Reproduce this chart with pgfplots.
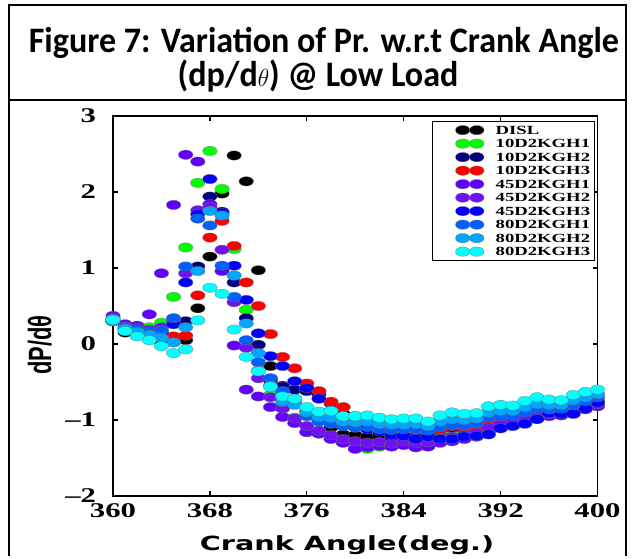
\documentclass[border=0pt]{standalone}
\usepackage{pgfplots}
\pgfplotsset{compat=1.18}
\usepackage{pgfplotstable}
\usepackage{fontspec}
\newfontfamily\carlito{Carlito}
\newfontfamily\dejavu{DejaVu Sans}
\newfontfamily\lserif{Liberation Serif}
\newfontfamily\lsans{Liberation Sans}

\definecolor{cK}{RGB}{0,0,0}
\definecolor{cG}{RGB}{0,255,0}
\definecolor{cN}{RGB}{0,0,128}
\definecolor{cR}{RGB}{255,0,0}
\definecolor{cP1}{RGB}{96,0,255}
\definecolor{cP2}{RGB}{112,18,240}
\definecolor{cB}{RGB}{0,0,255}
\definecolor{cL1}{RGB}{0,96,255}
\definecolor{cL2}{RGB}{0,166,255}
\definecolor{cC}{RGB}{0,255,255}

\newcommand\lgtxt[1]{\scalebox{1.5}[1]{#1}\hspace{6bp}}

% dP/dtheta at low load, one column per fuel
\pgfplotstableread{
deg   K      G      N      R      P1     P2     B      L1     L2     C
360   0.30   0.30   0.31   0.30   0.37   0.34   0.30   0.33   0.30   0.32
361   0.15   0.19   0.18   0.20   0.26   0.23   0.21   0.22   0.20   0.17
362   0.12   0.18   0.15   0.17   0.24   0.21   0.20   0.19   0.16   0.10
363   0.08   0.22   0.12   0.14   0.39   0.19   0.17   0.16   0.12   0.05
364   0.02   0.28   0.10   0.12   0.93   0.22   0.15   0.18   0.08  -0.03
365   0.06   0.62   0.06   0.10   1.83   0.31   0.26   0.34   0.02  -0.12
366   0.05   1.27   0.30   0.11   2.49   0.93   0.81   1.02   0.22  -0.07
367   0.47   2.12   1.02   0.64   2.40   1.76   1.71   1.65   0.96   0.31
368   1.15   2.54   1.94   1.40   1.84   1.80   2.17   1.56   1.75   0.74
369   1.98   2.04   1.74   1.62   0.96   1.24   1.72   1.03   1.69   0.66
370   2.48   1.25   0.81   1.29  -0.02   0.55   1.03   0.62   0.90   0.19
371   2.14   0.45   0.34   0.81  -0.60  -0.05   0.58   0.05   0.27  -0.17
372   0.97  -0.35  -0.01   0.50  -0.69  -0.45   0.14  -0.24  -0.12  -0.36
373  -0.29  -0.67  -0.48   0.13  -0.83  -0.70  -0.16  -0.45  -0.55  -0.56
374  -0.55  -0.80  -0.56  -0.17  -0.96  -0.85  -0.29  -0.62  -0.76  -0.69
375  -0.72  -0.97  -0.60  -0.32  -1.04  -0.98  -0.49  -0.78  -0.80  -0.72
376  -0.88  -1.16  -0.62  -0.52  -1.16  -1.08  -0.58  -0.95  -0.90  -0.83
377  -1.00  -1.15  -0.66  -0.62  -1.18  -1.14  -0.72  -1.02  -0.96  -0.89
378  -1.10  -1.22  -0.78  -0.76  -1.25  -1.20  -0.88  -1.05  -0.97  -0.88
379  -1.19  -1.26  -0.92  -0.83  -1.30  -1.25  -1.00  -1.08  -1.02  -0.95
380  -1.20  -1.32  -1.05  -0.95  -1.38  -1.28  -1.08  -1.10  -1.03  -0.95
381  -1.22  -1.38  -1.10  -1.05  -1.36  -1.30  -1.12  -1.09  -1.02  -0.94
382  -1.21  -1.35  -1.14  -1.10  -1.34  -1.29  -1.15  -1.12  -1.05  -0.97
383  -1.23  -1.33  -1.16  -1.14  -1.35  -1.31  -1.20  -1.13  -1.06  -0.99
384  -1.22  -1.30  -1.15  -1.16  -1.33  -1.28  -1.21  -1.12  -1.06  -0.98
385  -1.20  -1.29  -1.16  -1.13  -1.36  -1.30  -1.25  -1.12  -1.05  -0.98
386  -1.22  -1.26  -1.18  -1.15  -1.35  -1.29  -1.22  -1.14  -1.08  -1.02
387  -1.18  -1.24  -1.12  -1.12  -1.30  -1.25  -1.25  -1.09  -1.02  -0.94
388  -1.15  -1.20  -1.10  -1.08  -1.28  -1.22  -1.25  -1.06  -0.99  -0.90
389  -1.14  -1.18  -1.12  -1.10  -1.25  -1.20  -1.22  -1.07  -1.00  -0.92
390  -1.12  -1.15  -1.10  -1.08  -1.22  -1.17  -1.21  -1.04  -0.98  -0.91
391  -1.05  -1.08  -1.02  -1.00  -1.15  -1.10  -1.19  -0.97  -0.90  -0.82
392  -1.02  -1.04  -0.99  -0.97  -1.10  -1.05  -1.11  -0.95  -0.88  -0.80
393  -1.00  -1.02  -0.99  -0.98  -1.05  -0.98  -1.08  -0.94  -0.88  -0.81
394  -0.96  -0.98  -0.94  -0.93  -1.00  -0.96  -1.05  -0.90  -0.83  -0.75
395  -0.92  -0.93  -0.89  -0.90  -0.96  -0.92  -0.99  -0.85  -0.79  -0.70
396  -0.93  -0.94  -0.90  -0.92  -0.95  -0.92  -0.91  -0.86  -0.80  -0.73
397  -0.92  -0.92  -0.90  -0.91  -0.94  -0.90  -0.92  -0.85  -0.80  -0.74
398  -0.87  -0.86  -0.84  -0.86  -0.89  -0.86  -0.92  -0.80  -0.74  -0.67
399  -0.82  -0.84  -0.80  -0.84  -0.86  -0.83  -0.85  -0.75  -0.70  -0.63
400  -0.78  -0.80  -0.75  -0.81  -0.82  -0.79  -0.77  -0.70  -0.66  -0.60
}\dpdata

\pgfplotsset{
  dots/.style={only marks, mark=*, mark size=4.7bp,
    mark options={xscale=1.55, draw=black!55, line width=0.25bp, fill=#1},
    legend image code/.code={\path (-28bp,0bp) (30bp,0bp);
      \draw[##1] plot coordinates {(0bp,0bp) (14bp,0bp)};}},
}

\begin{document}
\begin{tikzpicture}[x=1bp,y=1bp]
\begin{axis}[
    scale only axis, width=484.5bp, height=380bp,
    xmin=360, xmax=400, ymin=-2, ymax=3,
    xtick={360,368,...,400},
    ytick={-2,-1,0,1,2,3},
    yticklabels={–2,–1,0,1,2,3},
    tick align=inside,
    major tick length=5bp,
    axis line style={line width=1.6bp},
    every tick/.style={black, line width=1.2bp},
    /pgf/number format/assume math mode=true,
    /pgf/number format/1000 sep={},
    xticklabel style={font=\lserif\bfseries\fontsize{21}{21}\selectfont, xscale=1.47, yshift=-4bp},
    yticklabel style={font=\lserif\bfseries\fontsize{21}{21}\selectfont, xscale=1.47, xshift=-8bp},
    xlabel={\scalebox{1.47}[1]{Crank Angle(deg.)}},
    xlabel style={font=\dejavu\bfseries\fontsize{19.6}{20}\selectfont,
      at={(axis description cs:0.483,-0.1447)}, anchor=base},
    ylabel={\scalebox{1}[1.47]{dP/dθ}},
    ylabel style={font=\lsans\bfseries\fontsize{22}{22}\selectfont,
      at={(axis description cs:-0.151,0.397)}, anchor=center},
    clip=false,
    legend cell align=left,
    legend style={at={(rel axis cs:1,1)}, anchor=north east, xshift=-2.5bp, yshift=-5bp,
      draw=black, line width=0.8bp, inner sep=2bp, row sep=0bp, column sep=0bp,
      font=\lserif\bfseries\fontsize{12.5}{13}\selectfont,
      nodes={text height=8.5bp, text depth=0bp, inner sep=2.5bp}},
]
\addplot[dots=cK]  table[x=deg, y=K]  {\dpdata}; \addlegendentry{\lgtxt{DISL}}
\addplot[dots=cG]  table[x=deg, y=G]  {\dpdata}; \addlegendentry{\lgtxt{10D2KGH1}}
\addplot[dots=cN]  table[x=deg, y=N]  {\dpdata}; \addlegendentry{\lgtxt{10D2KGH2}}
\addplot[dots=cR]  table[x=deg, y=R]  {\dpdata}; \addlegendentry{\lgtxt{10D2KGH3}}
\addplot[dots=cP1] table[x=deg, y=P1] {\dpdata}; \addlegendentry{\lgtxt{45D2KGH1}}
\addplot[dots=cP2] table[x=deg, y=P2] {\dpdata}; \addlegendentry{\lgtxt{45D2KGH2}}
\addplot[dots=cB]  table[x=deg, y=B]  {\dpdata}; \addlegendentry{\lgtxt{45D2KGH3}}
\addplot[dots=cL1] table[x=deg, y=L1] {\dpdata}; \addlegendentry{\lgtxt{80D2KGH1}}
\addplot[dots=cL2] table[x=deg, y=L2] {\dpdata}; \addlegendentry{\lgtxt{80D2KGH2}}
\addplot[dots=cC]  table[x=deg, y=C]  {\dpdata}; \addlegendentry{\lgtxt{80D2KGH3}}
\coordinate (O) at (rel axis cs:0,0);
\end{axis}
% frame and title, in picture pixels measured from the top-left corner
\begin{scope}[shift={(O)}, shift={(-113,496)}]
\path (0,0) rectangle (635,-556);
\draw[line width=1.1bp] (9,-556) -- (9,-5) -- (626,-5) -- (626,-556);
\draw[line width=1.1bp] (9,-100) -- (626,-100);
\node[anchor=base, font=\carlito\bfseries\fontsize{36}{36}\selectfont, xscale=0.95]
  at (324,-53) {Figure 7: Variation of Pr. w.r.t Crank Angle};
\node[anchor=base, font=\carlito\bfseries\fontsize{36}{36}\selectfont, xscale=0.95]
  at (318,-87) {(dp/d$\theta$) @ Low Load};
\end{scope}
\end{tikzpicture}
\end{document}
